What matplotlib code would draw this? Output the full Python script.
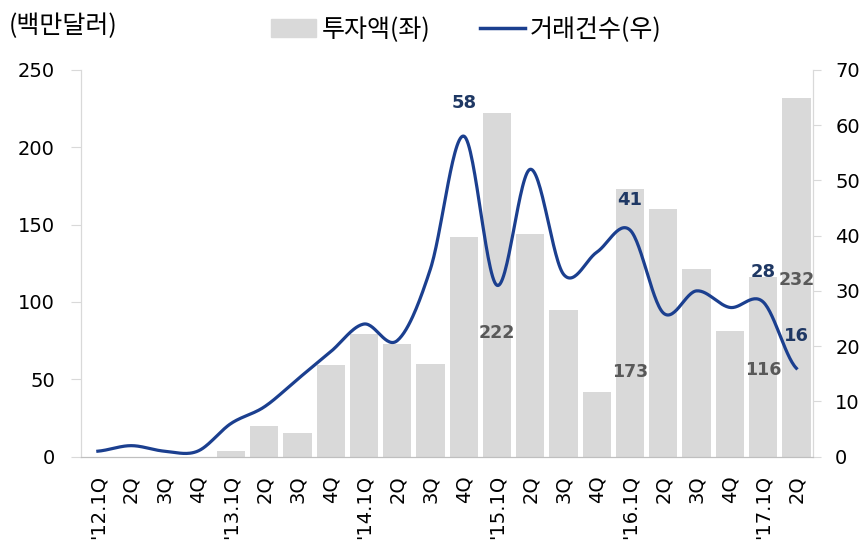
import numpy as np
import matplotlib.pyplot as plt

plt.rcParams['font.family'] = ['Noto Sans CJK KR', 'DejaVu Sans']

quarters = ["'12.1Q", "2Q", "3Q", "4Q", "'13.1Q", "2Q", "3Q", "4Q",
            "'14.1Q", "2Q", "3Q", "4Q", "'15.1Q", "2Q", "3Q", "4Q",
            "'16.1Q", "2Q", "3Q", "4Q", "'17.1Q", "2Q"]
invest = [0, 0, 0, 0, 4, 20, 15, 59, 79, 73, 60, 142, 222, 144, 95, 42,
          173, 160, 121, 81, 116, 232]
deals = [1, 2, 1, 1, 6, 9, 14, 19, 24, 21, 34, 58, 31, 52, 33, 37,
         41, 26, 30, 27, 28, 16]

# labelled points: (index, text, y-position)
bar_labels = [(12, "222", 80), (16, "173", 55), (20, "116", 56), (21, "232", 114)]
line_labels = [(11, "58", 64), (16, "41", 46.5), (20, "28", 33.5), (21, "16", 21.8)]

bar_color = '#D9D9D9'
line_color = '#1B3F8F'


def catmull_rom(y, n=30):
    y = np.asarray(y, dtype=float)
    p = np.concatenate([[y[0]], y, [y[-1]]])
    xs, ys = [], []
    for i in range(len(y) - 1):
        p0, p1, p2, p3 = p[i], p[i + 1], p[i + 2], p[i + 3]
        t = np.linspace(0, 1, n, endpoint=False)
        m1 = (p2 - p0) / 2
        m2 = (p3 - p1) / 2
        h00 = 2 * t**3 - 3 * t**2 + 1
        h10 = t**3 - 2 * t**2 + t
        h01 = -2 * t**3 + 3 * t**2
        h11 = t**3 - t**2
        xs.append(i + t)
        ys.append(h00 * p1 + h10 * m1 + h01 * p2 + h11 * m2)
    xs.append([len(y) - 1])
    ys.append([y[-1]])
    return np.concatenate(xs), np.concatenate(ys)


fig = plt.figure(figsize=(8.64, 5.45), dpi=100)
ax = fig.add_axes([0.094, 0.162, 0.847, 0.71])
x = np.arange(len(quarters))
ax.bar(x, invest, width=0.85, color=bar_color, zorder=1)
ax.set_ylim(0, 250)
ax.set_yticks(range(0, 251, 50))
ax.set_xlim(-0.5, 21.5)
ax.set_xticks(x)
ax.set_xticklabels(quarters, rotation=90, fontsize=14, family='DejaVu Sans')
ax.tick_params(axis='x', length=0, pad=13)
ax.tick_params(axis='y', labelsize=14, length=7, color='#D9D9D9', pad=12)
for lb in ax.get_yticklabels():
    lb.set_family('DejaVu Sans')

ax2 = ax.twinx()
sx, sy = catmull_rom(deals)
ax2.plot(sx, sy, color=line_color, lw=2.3, zorder=3)
ax2.set_ylim(0, 70)
ax2.set_yticks(range(0, 71, 10))
ax2.tick_params(axis='y', labelsize=14, length=6, color='#D9D9D9', pad=10)
for lb in ax2.get_yticklabels():
    lb.set_family('DejaVu Sans')

for a in (ax, ax2):
    a.spines['top'].set_visible(False)
    a.spines['left'].set_color('#D9D9D9')
    a.spines['right'].set_color('#D9D9D9')
    a.spines['bottom'].set_color('#BFBFBF')

for i, txt, yv in bar_labels:
    ax.text(i, yv, txt, ha='center', va='center', fontsize=12.5,
            fontweight='bold', color='#595959', family='DejaVu Sans', zorder=5)
for i, txt, yv in line_labels:
    ax2.text(i, yv, txt, ha='center', va='center', fontsize=13,
             fontweight='bold', color='#1F3864', family='DejaVu Sans', zorder=5)

fig.text(0.01, 0.953, '(백만달러)', fontsize=18, va='center', ha='left')
h1 = plt.Rectangle((0, 0), 1, 1, color=bar_color)
h2, = ax.plot([], [], color=line_color, lw=2.5)
fig.legend([h1, h2], ['투자액(좌)', '거래건수(우)'], loc='center',
           bbox_to_anchor=(0.54, 0.945), ncol=2, frameon=False, fontsize=18,
           handlelength=1.8, columnspacing=2.0, handletextpad=0.2)

fig.savefig('out.png', dpi=100)
